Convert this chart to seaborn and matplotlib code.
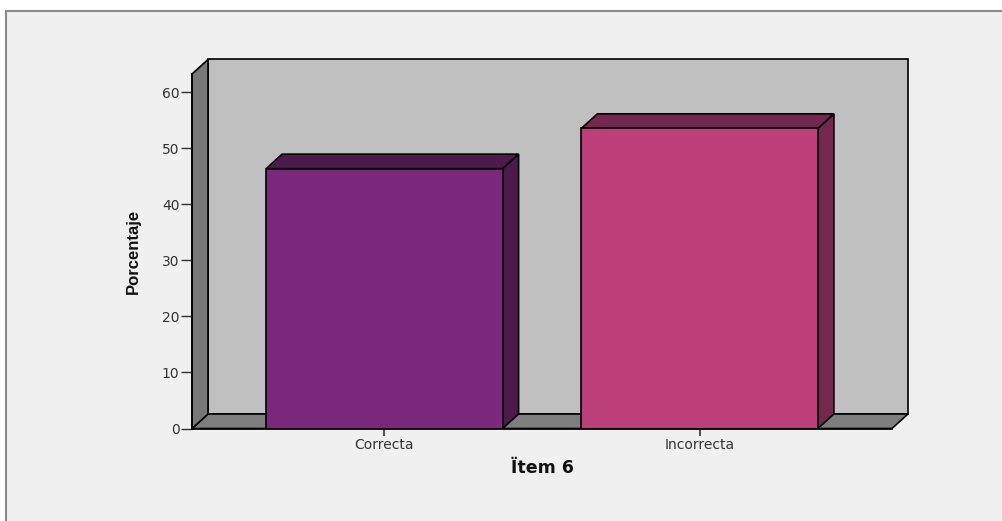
import matplotlib
matplotlib.use("Agg")
import matplotlib.pyplot as plt
import seaborn as sns
import pandas as pd
from matplotlib.patches import Polygon, Rectangle
from matplotlib import font_manager

# ---- data ----
categories = ["Correcta", "Incorrecta"]
percentages = [46.4, 53.6]
y_ticks = [0, 10, 20, 30, 40, 50, 60]
x_label = "Ïtem 6"
y_label = "Porcentaje"

front_colors = ["#7c287b", "#bc3f7a"]
dark_colors = ["#4e1a4b", "#74274f"]

sns.set_style("white")
names = {f.name for f in font_manager.fontManager.ttflist}
narrow = "Liberation Sans Narrow" if "Liberation Sans Narrow" in names else "Liberation Sans"
plt.rcParams["font.family"] = ["DejaVu Sans"]

W, H = 1003, 521
fig = plt.figure(figsize=(W / 100, H / 100), dpi=100)
fig.patch.set_facecolor("white")
# outer frame
fig.patches.append(Rectangle((6 / W, -0.1), 1.2, (H - 11) / H + 0.1, transform=fig.transFigure,
                             facecolor="#f0f0f0", edgecolor="#8a8a8a", linewidth=1.5, zorder=-10))

ax_left, ax_right, ax_bottom, ax_top = 192, 892, 428.5, 74
ax_h = ax_bottom - ax_top
ax = fig.add_axes([ax_left / W, (H - ax_bottom) / H, (ax_right - ax_left) / W, ax_h / H])
ax.patch.set_alpha(0)

df = pd.DataFrame({"cat": categories, "pct": percentages})
sns.barplot(data=df, x="cat", y="pct", hue="cat", palette=front_colors, width=0.75,
            saturation=1, edgecolor="black", linewidth=1.2, legend=False, ax=ax, zorder=5)

xmin, xmax, ymax = -0.61, 1.61, 63.3
ax.set_xlim(xmin, xmax)
ax.set_ylim(0, ymax)

# depth offset in data units (16 px right, 14.5 px up)
px_per_x = (ax_right - ax_left) / (xmax - xmin)
px_per_y = ax_h / ymax
ddx = 16 / px_per_x
ddy = 14.5 / px_per_y

ek = dict(edgecolor="black", linewidth=1.2, clip_on=False)
# back wall
ax.add_patch(Polygon([(xmin + ddx, ddy), (xmax + ddx, ddy), (xmax + ddx, ymax + ddy), (xmin + ddx, ymax + ddy)],
                     facecolor="#c0c0c0", zorder=0, **ek))
# floor
ax.add_patch(Polygon([(xmin, 0), (xmax, 0), (xmax + ddx, ddy), (xmin + ddx, ddy)],
                     facecolor="#7e7e7e", zorder=1, **ek))
# left wall
ax.add_patch(Polygon([(xmin, 0), (xmin, ymax), (xmin + ddx, ymax + ddy), (xmin + ddx, ddy)],
                     facecolor="#787878", zorder=1, **ek))

# 3D faces of bars
for patch, dc in zip(ax.patches[:len(categories)], dark_colors):
    x0 = patch.get_x()
    x1 = x0 + patch.get_width()
    h = patch.get_height()
    ax.add_patch(Polygon([(x1, 0), (x1, h), (x1 + ddx, h + ddy), (x1 + ddx, ddy)],
                         facecolor=dc, zorder=4, **ek))
    ax.add_patch(Polygon([(x0, h), (x1, h), (x1 + ddx, h + ddy), (x0 + ddx, h + ddy)],
                         facecolor=dc, zorder=4, **ek))

for s in ["top", "right"]:
    ax.spines[s].set_visible(False)
for s in ["left", "bottom"]:
    ax.spines[s].set_color("black")
    ax.spines[s].set_linewidth(1.2)
    ax.spines[s].set_zorder(6)

ax.set_yticks(y_ticks)
ax.set_yticklabels([str(t) for t in y_ticks])
ax.tick_params(axis="y", direction="out", length=8, width=1, color="#333333",
               labelsize=10, labelcolor="#333333", pad=1, left=True)
ax.tick_params(axis="x", direction="out", length=5, width=1.5, color="#555555",
               labelsize=10, labelcolor="#333333", pad=2, bottom=True)

ax.set_xlabel(x_label, fontsize=12.5, fontweight="bold", color="#111111")
ax.xaxis.set_label_coords(0.5, (ax_bottom - 459) / ax_h)
ax.set_ylabel(y_label, fontsize=12, fontweight="bold", family=[narrow, "DejaVu Sans"],
              color="#111111")
ax.yaxis.set_label_coords((141 - ax_left) / (ax_right - ax_left), 0.5)

fig.savefig("out.png", dpi=100, facecolor=fig.get_facecolor())
